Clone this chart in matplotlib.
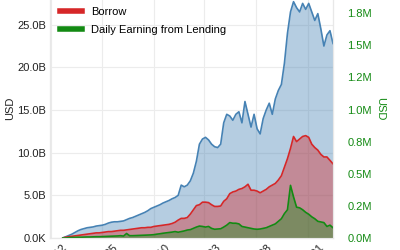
import pandas as pd
import matplotlib
matplotlib.use("Agg")
import matplotlib.pyplot as plt
from matplotlib.lines import Line2D
from matplotlib.ticker import FuncFormatter, MultipleLocator

plt.rcParams["font.family"] = ["Liberation Sans", "DejaVu Sans"]
plt.rcParams["font.size"] = 8

# data (supply / borrow in billions USD, earning in millions USD)
dates = pd.date_range("2021-01-05", periods=90, freq="9D")
supply = [0.02, 0.15, 0.3, 0.45, 0.65, 0.85, 1.0, 1.1, 1.2, 1.25,
          1.3, 1.4, 1.45, 1.5, 1.6, 1.75, 1.85, 1.9, 1.9, 1.95,
          2.0, 2.15, 2.3, 2.4, 2.55, 2.7, 2.85, 3.0, 3.2, 3.45,
          3.6, 3.75, 3.9, 4.1, 4.25, 4.4, 4.6, 4.75, 5.0, 6.2,
          6.0, 6.2, 6.7, 7.6, 9.0, 11.0, 11.6, 11.8, 11.5, 11.0,
          10.7, 10.6, 11.0, 13.5, 14.5, 14.3, 13.8, 14.5, 14.8, 13.5,
          16.0, 14.5, 13.0, 14.5, 12.8, 12.2, 14.0, 15.0, 15.8, 14.5,
          16.3, 17.3, 18.0, 20.5, 24.0, 26.5, 27.7, 27.0, 26.5, 27.5,
          26.8, 27.5, 26.5, 25.5, 26.3, 24.5, 22.5, 23.8, 24.3, 22.8]
borrow = [0.0, 0.1, 0.15, 0.2, 0.25, 0.3, 0.35, 0.4, 0.45, 0.5,
          0.55, 0.6, 0.6, 0.65, 0.7, 0.75, 0.75, 0.8, 0.85, 0.9,
          0.9, 0.95, 1.0, 1.05, 1.1, 1.15, 1.2, 1.2, 1.25, 1.25,
          1.35, 1.4, 1.45, 1.5, 1.55, 1.6, 1.7, 1.85, 2.1, 2.3,
          2.3, 2.4, 2.8, 3.3, 3.8, 3.9, 4.2, 4.2, 4.15, 3.9,
          3.7, 3.7, 3.75, 4.3, 4.6, 5.2, 5.4, 5.5, 5.7, 5.8,
          6.0, 6.3, 5.6, 5.6, 5.5, 5.3, 5.5, 5.7, 6.0, 6.2,
          6.4, 6.8, 7.3, 8.3, 9.3, 10.5, 11.9, 11.3, 11.6, 11.9,
          12.0, 11.8, 11.0, 10.6, 10.3, 9.8, 9.5, 9.5, 9.1, 8.7]
earning = [0.0, 0.0, 0.003, 0.004, 0.005, 0.006, 0.006, 0.007, 0.008, 0.008,
           0.009, 0.01, 0.01, 0.011, 0.012, 0.013, 0.014, 0.015, 0.016, 0.018,
           0.015, 0.035, 0.018, 0.018, 0.019, 0.02, 0.021, 0.022, 0.023, 0.024,
           0.026, 0.03, 0.033, 0.037, 0.04, 0.043, 0.046, 0.05, 0.045, 0.05,
           0.055, 0.062, 0.065, 0.075, 0.085, 0.093, 0.09, 0.085, 0.09, 0.075,
           0.068, 0.07, 0.072, 0.085, 0.1, 0.12, 0.115, 0.115, 0.11, 0.09,
           0.085, 0.08, 0.075, 0.07, 0.068, 0.07, 0.075, 0.08, 0.09, 0.1,
           0.11, 0.13, 0.15, 0.19, 0.22, 0.41, 0.32, 0.24, 0.235, 0.22,
           0.2, 0.185, 0.165, 0.15, 0.13, 0.125, 0.12, 0.09, 0.1, 0.08]
tick_labels = ["2020-12", "2021-05", "2021-10", "2022-03", "2022-08", "2023-01"]

supply_usd = [v * 1e9 for v in supply]
borrow_usd = [v * 1e9 for v in borrow]
earning_usd = [v * 1e6 for v in earning]

c_sup = "#4682b4"
c_bor = "#d62728"
c_earn = "#138a13"


def big_fmt(v, pos):
    if abs(v) >= 1e9:
        return f"{v / 1e9:.1f}B"
    if abs(v) >= 1e6:
        return f"{v / 1e6:.1f}M"
    return f"{v / 1e3:.1f}K"


fig = plt.figure(figsize=(4, 2.5), dpi=100)
ax = fig.add_axes([0.125, 0.048, 0.7075, 1.036])
ax2 = ax.twinx()

ax.fill_between(dates, supply_usd, color=c_sup, alpha=0.4, lw=0)
ax.plot(dates, supply_usd, color=c_sup, lw=1.2)
ax.fill_between(dates, borrow_usd, color=c_bor, alpha=0.4, lw=0)
ax.plot(dates, borrow_usd, color=c_bor, lw=1.2)
ax2.fill_between(dates, earning_usd, color=c_earn, alpha=0.4, lw=0)
ax2.plot(dates, earning_usd, color=c_earn, lw=1.2)

ax.set_xlim(pd.Timestamp("2020-11-28"), dates[-1])
ax.set_ylim(0, 30.36e9)
ax2.set_ylim(0, 2.017e6)

ax.set_xticks(pd.to_datetime([t + "-01" for t in tick_labels]))
ax.set_xticklabels(tick_labels, rotation=45, ha="center")
ax.yaxis.set_major_locator(MultipleLocator(5e9))
ax.yaxis.set_major_formatter(FuncFormatter(big_fmt))
ax2.yaxis.set_major_locator(MultipleLocator(0.25e6))
ax2.yaxis.set_major_formatter(FuncFormatter(lambda v, p: f"{v / 1e6:.1f}M"))

ax.grid(True, color="#ececec", lw=0.8)
ax.set_axisbelow(True)
for a in (ax, ax2):
    for s in a.spines.values():
        s.set_color("#e8e8e8")
        s.set_linewidth(0.8)
ax.tick_params(axis="y", length=0, pad=3, labelcolor="#222222")
ax.tick_params(axis="x", length=0, pad=3, labelcolor="#222222")
ax2.tick_params(axis="y", length=0, pad=10.5, labelcolor=c_earn)

ax.set_ylabel("USD", color="#222222", labelpad=1)
ax2.set_ylabel("USD", color=c_earn, rotation=270, labelpad=9)

handles = [Line2D([], [], color=c_sup, lw=4),
           Line2D([], [], color=c_bor, lw=4),
           Line2D([], [], color=c_earn, lw=4)]
ax.legend(handles, ["Supply", "Borrow", "Daily Earning from Lending"],
          loc="upper left", frameon=False, fontsize=8, labelspacing=0.7)

fig.savefig("out.png", dpi=100)
